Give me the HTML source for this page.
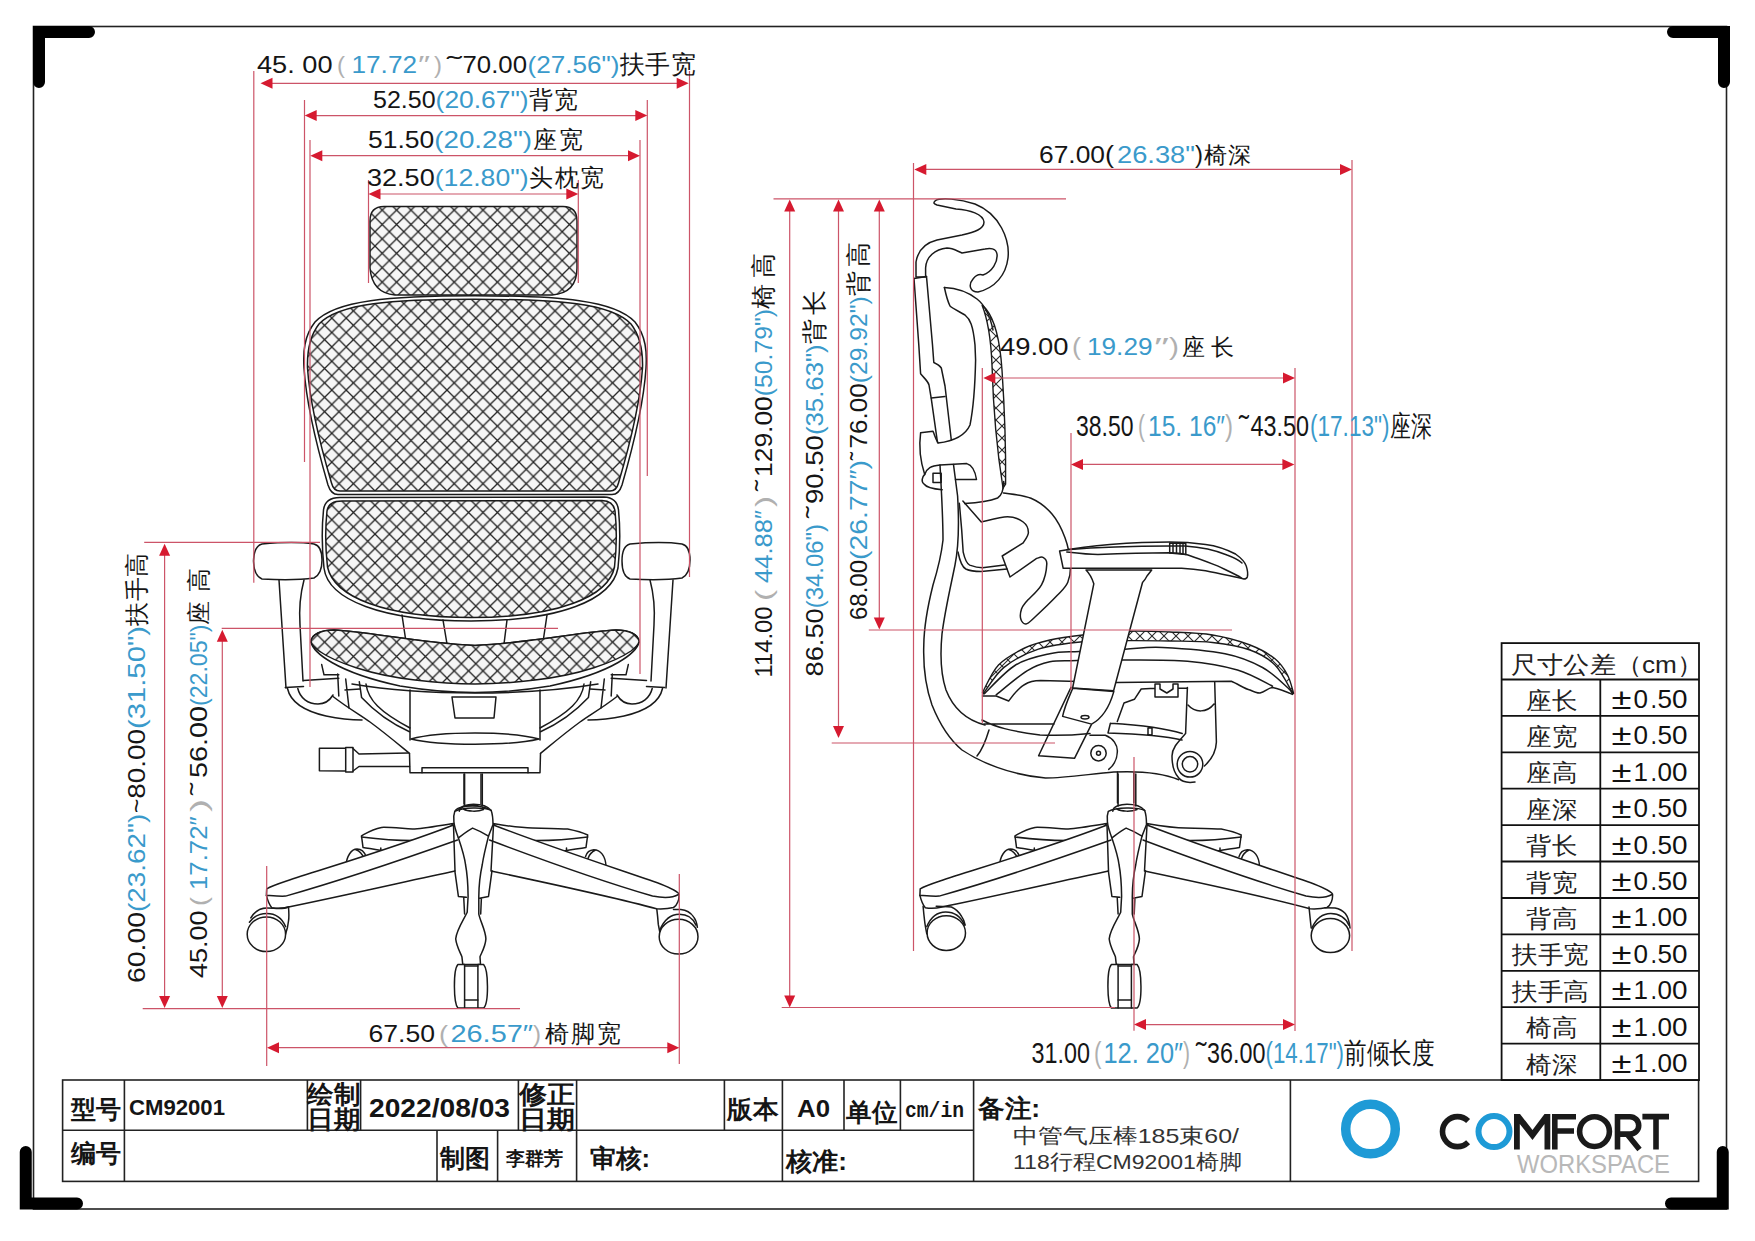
<!DOCTYPE html><html><head><meta charset="utf-8"><style>html,body{margin:0;padding:0;background:#fff;overflow:hidden;width:1755px;height:1241px;}svg{display:block;font-family:"Liberation Sans",sans-serif;}</style></head><body><svg width="1755" height="1241" viewBox="0 0 1755 1241">
<rect width="1755" height="1241" fill="#fff"/>
<rect x="33.5" y="26.5" width="1693" height="1182.5" fill="none" stroke="#222" stroke-width="1.6"/>
<g fill="none" stroke="#000" stroke-width="12" stroke-linecap="round" stroke-linejoin="miter">
<path d="M39,82 V32 H89"/>
<path d="M1673,32 H1724 V82"/>
<path d="M25.75,1152 V1203.5 H77"/>
<path d="M1722.75,1152 V1203.5 H1671"/>
</g>
<g stroke="#222" stroke-width="1.6" fill="none">
<rect x="62.6" y="1080" width="1636" height="101.4"/>
<line x1="62.6" y1="1130.2" x2="973.6" y2="1130.2"/>
<line x1="124.4" y1="1080" x2="124.4" y2="1130.2"/>
<line x1="307.4" y1="1080" x2="307.4" y2="1130.2"/>
<line x1="360.6" y1="1080" x2="360.6" y2="1130.2"/>
<line x1="518.4" y1="1080" x2="518.4" y2="1130.2"/>
<line x1="576.6" y1="1080" x2="576.6" y2="1130.2"/>
<line x1="724.4" y1="1080" x2="724.4" y2="1130.2"/>
<line x1="782.4" y1="1080" x2="782.4" y2="1130.2"/>
<line x1="844" y1="1080" x2="844" y2="1130.2"/>
<line x1="900.4" y1="1080" x2="900.4" y2="1130.2"/>
<line x1="124.4" y1="1130.2" x2="124.4" y2="1181.4"/>
<line x1="437" y1="1130.2" x2="437" y2="1181.4"/>
<line x1="497.6" y1="1130.2" x2="497.6" y2="1181.4"/>
<line x1="576.6" y1="1130.2" x2="576.6" y2="1181.4"/>
<line x1="782.4" y1="1130.2" x2="782.4" y2="1181.4"/>
<line x1="973.6" y1="1080" x2="973.6" y2="1181.4"/>
<line x1="1290.4" y1="1080" x2="1290.4" y2="1181.4"/>
</g>
<text x="71.0" y="1118.0" font-size="25" font-family="Liberation Sans" font-weight="bold" textLength="50.0" lengthAdjust="spacingAndGlyphs" ><tspan fill="#151515">型号</tspan></text>
<text x="71.0" y="1162.0" font-size="25" font-family="Liberation Sans" font-weight="bold" textLength="50.0" lengthAdjust="spacingAndGlyphs" ><tspan fill="#151515">编号</tspan></text>
<text x="129.0" y="1114.5" font-size="22" font-family="Liberation Sans" font-weight="bold" textLength="96.0" lengthAdjust="spacingAndGlyphs" ><tspan fill="#151515">CM92001</tspan></text>
<text x="307.0" y="1103.0" font-size="25" font-family="Liberation Sans" font-weight="bold" textLength="53.0" lengthAdjust="spacingAndGlyphs" ><tspan fill="#151515">绘制</tspan></text>
<text x="307.0" y="1128.0" font-size="25" font-family="Liberation Sans" font-weight="bold" textLength="53.0" lengthAdjust="spacingAndGlyphs" ><tspan fill="#151515">日期</tspan></text>
<text x="369.0" y="1116.5" font-size="26" font-family="Liberation Sans" font-weight="bold" textLength="141.0" lengthAdjust="spacingAndGlyphs" ><tspan fill="#151515">2022/08/03</tspan></text>
<text x="519.0" y="1103.0" font-size="25" font-family="Liberation Sans" font-weight="bold" textLength="56.0" lengthAdjust="spacingAndGlyphs" ><tspan fill="#151515">修正</tspan></text>
<text x="519.0" y="1128.0" font-size="25" font-family="Liberation Sans" font-weight="bold" textLength="56.0" lengthAdjust="spacingAndGlyphs" ><tspan fill="#151515">日期</tspan></text>
<text x="727.0" y="1118.0" font-size="25" font-family="Liberation Sans" font-weight="bold" textLength="51.0" lengthAdjust="spacingAndGlyphs" ><tspan fill="#151515">版本</tspan></text>
<text x="797.0" y="1117.0" font-size="23" font-family="Liberation Sans" font-weight="bold" textLength="33.0" lengthAdjust="spacingAndGlyphs" ><tspan fill="#151515">A0</tspan></text>
<text x="846.0" y="1121.0" font-size="25" font-family="Liberation Sans" font-weight="bold" textLength="51.0" lengthAdjust="spacingAndGlyphs" ><tspan fill="#151515">单位</tspan></text>
<text x="905.0" y="1117.0" font-size="22" font-family="Liberation Mono" font-weight="bold" textLength="59.0" lengthAdjust="spacingAndGlyphs" ><tspan fill="#151515">cm/in</tspan></text>
<text x="978.0" y="1117.0" font-size="25" font-family="Liberation Sans" font-weight="bold" textLength="62.0" lengthAdjust="spacingAndGlyphs" ><tspan fill="#151515">备注:</tspan></text>
<text x="440.0" y="1167.0" font-size="25" font-family="Liberation Sans" font-weight="bold" textLength="50.0" lengthAdjust="spacingAndGlyphs" ><tspan fill="#151515">制图</tspan></text>
<text x="506.0" y="1165.0" font-size="19" font-family="Liberation Sans" font-weight="bold" textLength="57.0" lengthAdjust="spacingAndGlyphs" ><tspan fill="#151515">李群芳</tspan></text>
<text x="590.0" y="1167.0" font-size="25" font-family="Liberation Sans" font-weight="bold" textLength="60.0" lengthAdjust="spacingAndGlyphs" ><tspan fill="#151515">审核:</tspan></text>
<text x="786.0" y="1170.0" font-size="25" font-family="Liberation Sans" font-weight="bold" textLength="61.0" lengthAdjust="spacingAndGlyphs" ><tspan fill="#151515">核准:</tspan></text>
<text x="1013.0" y="1143.0" font-size="21" font-family="Liberation Sans" font-weight="normal" textLength="226.0" lengthAdjust="spacingAndGlyphs" ><tspan fill="#333">中管气压棒185束60/</tspan></text>
<text x="1013.0" y="1169.0" font-size="21" font-family="Liberation Sans" font-weight="normal" textLength="229.0" lengthAdjust="spacingAndGlyphs" ><tspan fill="#333">118行程CM92001椅脚</tspan></text>
<g stroke="#111" stroke-width="1.8" fill="none">
<rect x="1501.6" y="643.1" width="197.4" height="437"/>
<line x1="1600.3" y1="679.5" x2="1600.3" y2="1080"/>
<line x1="1501.6" y1="679.5" x2="1699" y2="679.5"/>
<line x1="1501.6" y1="715.9" x2="1699" y2="715.9"/>
<line x1="1501.6" y1="752.3" x2="1699" y2="752.3"/>
<line x1="1501.6" y1="788.7" x2="1699" y2="788.7"/>
<line x1="1501.6" y1="825.1" x2="1699" y2="825.1"/>
<line x1="1501.6" y1="861.5" x2="1699" y2="861.5"/>
<line x1="1501.6" y1="898.0" x2="1699" y2="898.0"/>
<line x1="1501.6" y1="934.4" x2="1699" y2="934.4"/>
<line x1="1501.6" y1="970.8" x2="1699" y2="970.8"/>
<line x1="1501.6" y1="1007.2" x2="1699" y2="1007.2"/>
<line x1="1501.6" y1="1043.6" x2="1699" y2="1043.6"/>
</g>
<text x="1511.0" y="673.0" font-size="24" font-family="Liberation Sans" font-weight="normal" textLength="192.0" lengthAdjust="spacingAndGlyphs" ><tspan fill="#222">尺寸公差（cm）</tspan></text>
<text x="1526.0" y="708.5" font-size="24" font-family="Liberation Sans" font-weight="normal" textLength="51.0" lengthAdjust="spacingAndGlyphs" ><tspan fill="#222">座长</tspan></text>
<text x="1611.5" y="709.0" font-size="30" font-family="Liberation Sans" fill="#111" textLength="20" lengthAdjust="spacingAndGlyphs">±</text>
<text x="1633.5" y="707.9" font-size="25.4" font-family="Liberation Sans" fill="#111" textLength="14.5" lengthAdjust="spacingAndGlyphs">0</text>
<text x="1650.5" y="707.9" font-size="25.4" font-family="Liberation Sans" fill="#111" textLength="6.5" lengthAdjust="spacingAndGlyphs">.</text>
<text x="1657.5" y="707.9" font-size="25.4" font-family="Liberation Sans" fill="#111" textLength="14.5" lengthAdjust="spacingAndGlyphs">5</text>
<text x="1672.0" y="707.9" font-size="25.4" font-family="Liberation Sans" fill="#111" textLength="15.5" lengthAdjust="spacingAndGlyphs">0</text>
<text x="1526.0" y="744.9" font-size="24" font-family="Liberation Sans" font-weight="normal" textLength="51.0" lengthAdjust="spacingAndGlyphs" ><tspan fill="#222">座宽</tspan></text>
<text x="1611.5" y="745.4" font-size="30" font-family="Liberation Sans" fill="#111" textLength="20" lengthAdjust="spacingAndGlyphs">±</text>
<text x="1633.5" y="744.3" font-size="25.4" font-family="Liberation Sans" fill="#111" textLength="14.5" lengthAdjust="spacingAndGlyphs">0</text>
<text x="1650.5" y="744.3" font-size="25.4" font-family="Liberation Sans" fill="#111" textLength="6.5" lengthAdjust="spacingAndGlyphs">.</text>
<text x="1657.5" y="744.3" font-size="25.4" font-family="Liberation Sans" fill="#111" textLength="14.5" lengthAdjust="spacingAndGlyphs">5</text>
<text x="1672.0" y="744.3" font-size="25.4" font-family="Liberation Sans" fill="#111" textLength="15.5" lengthAdjust="spacingAndGlyphs">0</text>
<text x="1526.0" y="781.3" font-size="24" font-family="Liberation Sans" font-weight="normal" textLength="51.0" lengthAdjust="spacingAndGlyphs" ><tspan fill="#222">座高</tspan></text>
<text x="1611.5" y="781.8" font-size="30" font-family="Liberation Sans" fill="#111" textLength="20" lengthAdjust="spacingAndGlyphs">±</text>
<text x="1633.5" y="780.7" font-size="25.4" font-family="Liberation Sans" fill="#111" textLength="14.5" lengthAdjust="spacingAndGlyphs">1</text>
<text x="1650.5" y="780.7" font-size="25.4" font-family="Liberation Sans" fill="#111" textLength="6.5" lengthAdjust="spacingAndGlyphs">.</text>
<text x="1657.5" y="780.7" font-size="25.4" font-family="Liberation Sans" fill="#111" textLength="14.5" lengthAdjust="spacingAndGlyphs">0</text>
<text x="1672.0" y="780.7" font-size="25.4" font-family="Liberation Sans" fill="#111" textLength="15.5" lengthAdjust="spacingAndGlyphs">0</text>
<text x="1526.0" y="817.7" font-size="24" font-family="Liberation Sans" font-weight="normal" textLength="51.0" lengthAdjust="spacingAndGlyphs" ><tspan fill="#222">座深</tspan></text>
<text x="1611.5" y="818.2" font-size="30" font-family="Liberation Sans" fill="#111" textLength="20" lengthAdjust="spacingAndGlyphs">±</text>
<text x="1633.5" y="817.1" font-size="25.4" font-family="Liberation Sans" fill="#111" textLength="14.5" lengthAdjust="spacingAndGlyphs">0</text>
<text x="1650.5" y="817.1" font-size="25.4" font-family="Liberation Sans" fill="#111" textLength="6.5" lengthAdjust="spacingAndGlyphs">.</text>
<text x="1657.5" y="817.1" font-size="25.4" font-family="Liberation Sans" fill="#111" textLength="14.5" lengthAdjust="spacingAndGlyphs">5</text>
<text x="1672.0" y="817.1" font-size="25.4" font-family="Liberation Sans" fill="#111" textLength="15.5" lengthAdjust="spacingAndGlyphs">0</text>
<text x="1526.0" y="854.1" font-size="24" font-family="Liberation Sans" font-weight="normal" textLength="51.0" lengthAdjust="spacingAndGlyphs" ><tspan fill="#222">背长</tspan></text>
<text x="1611.5" y="854.6" font-size="30" font-family="Liberation Sans" fill="#111" textLength="20" lengthAdjust="spacingAndGlyphs">±</text>
<text x="1633.5" y="853.5" font-size="25.4" font-family="Liberation Sans" fill="#111" textLength="14.5" lengthAdjust="spacingAndGlyphs">0</text>
<text x="1650.5" y="853.5" font-size="25.4" font-family="Liberation Sans" fill="#111" textLength="6.5" lengthAdjust="spacingAndGlyphs">.</text>
<text x="1657.5" y="853.5" font-size="25.4" font-family="Liberation Sans" fill="#111" textLength="14.5" lengthAdjust="spacingAndGlyphs">5</text>
<text x="1672.0" y="853.5" font-size="25.4" font-family="Liberation Sans" fill="#111" textLength="15.5" lengthAdjust="spacingAndGlyphs">0</text>
<text x="1526.0" y="890.5" font-size="24" font-family="Liberation Sans" font-weight="normal" textLength="51.0" lengthAdjust="spacingAndGlyphs" ><tspan fill="#222">背宽</tspan></text>
<text x="1611.5" y="891.0" font-size="30" font-family="Liberation Sans" fill="#111" textLength="20" lengthAdjust="spacingAndGlyphs">±</text>
<text x="1633.5" y="889.9" font-size="25.4" font-family="Liberation Sans" fill="#111" textLength="14.5" lengthAdjust="spacingAndGlyphs">0</text>
<text x="1650.5" y="889.9" font-size="25.4" font-family="Liberation Sans" fill="#111" textLength="6.5" lengthAdjust="spacingAndGlyphs">.</text>
<text x="1657.5" y="889.9" font-size="25.4" font-family="Liberation Sans" fill="#111" textLength="14.5" lengthAdjust="spacingAndGlyphs">5</text>
<text x="1672.0" y="889.9" font-size="25.4" font-family="Liberation Sans" fill="#111" textLength="15.5" lengthAdjust="spacingAndGlyphs">0</text>
<text x="1526.0" y="927.0" font-size="24" font-family="Liberation Sans" font-weight="normal" textLength="51.0" lengthAdjust="spacingAndGlyphs" ><tspan fill="#222">背高</tspan></text>
<text x="1611.5" y="927.5" font-size="30" font-family="Liberation Sans" fill="#111" textLength="20" lengthAdjust="spacingAndGlyphs">±</text>
<text x="1633.5" y="926.4" font-size="25.4" font-family="Liberation Sans" fill="#111" textLength="14.5" lengthAdjust="spacingAndGlyphs">1</text>
<text x="1650.5" y="926.4" font-size="25.4" font-family="Liberation Sans" fill="#111" textLength="6.5" lengthAdjust="spacingAndGlyphs">.</text>
<text x="1657.5" y="926.4" font-size="25.4" font-family="Liberation Sans" fill="#111" textLength="14.5" lengthAdjust="spacingAndGlyphs">0</text>
<text x="1672.0" y="926.4" font-size="25.4" font-family="Liberation Sans" fill="#111" textLength="15.5" lengthAdjust="spacingAndGlyphs">0</text>
<text x="1512.0" y="963.4" font-size="24" font-family="Liberation Sans" font-weight="normal" textLength="77.0" lengthAdjust="spacingAndGlyphs" ><tspan fill="#222">扶手宽</tspan></text>
<text x="1611.5" y="963.9" font-size="30" font-family="Liberation Sans" fill="#111" textLength="20" lengthAdjust="spacingAndGlyphs">±</text>
<text x="1633.5" y="962.8" font-size="25.4" font-family="Liberation Sans" fill="#111" textLength="14.5" lengthAdjust="spacingAndGlyphs">0</text>
<text x="1650.5" y="962.8" font-size="25.4" font-family="Liberation Sans" fill="#111" textLength="6.5" lengthAdjust="spacingAndGlyphs">.</text>
<text x="1657.5" y="962.8" font-size="25.4" font-family="Liberation Sans" fill="#111" textLength="14.5" lengthAdjust="spacingAndGlyphs">5</text>
<text x="1672.0" y="962.8" font-size="25.4" font-family="Liberation Sans" fill="#111" textLength="15.5" lengthAdjust="spacingAndGlyphs">0</text>
<text x="1512.0" y="999.8" font-size="24" font-family="Liberation Sans" font-weight="normal" textLength="77.0" lengthAdjust="spacingAndGlyphs" ><tspan fill="#222">扶手高</tspan></text>
<text x="1611.5" y="1000.3" font-size="30" font-family="Liberation Sans" fill="#111" textLength="20" lengthAdjust="spacingAndGlyphs">±</text>
<text x="1633.5" y="999.2" font-size="25.4" font-family="Liberation Sans" fill="#111" textLength="14.5" lengthAdjust="spacingAndGlyphs">1</text>
<text x="1650.5" y="999.2" font-size="25.4" font-family="Liberation Sans" fill="#111" textLength="6.5" lengthAdjust="spacingAndGlyphs">.</text>
<text x="1657.5" y="999.2" font-size="25.4" font-family="Liberation Sans" fill="#111" textLength="14.5" lengthAdjust="spacingAndGlyphs">0</text>
<text x="1672.0" y="999.2" font-size="25.4" font-family="Liberation Sans" fill="#111" textLength="15.5" lengthAdjust="spacingAndGlyphs">0</text>
<text x="1526.0" y="1036.2" font-size="24" font-family="Liberation Sans" font-weight="normal" textLength="51.0" lengthAdjust="spacingAndGlyphs" ><tspan fill="#222">椅高</tspan></text>
<text x="1611.5" y="1036.7" font-size="30" font-family="Liberation Sans" fill="#111" textLength="20" lengthAdjust="spacingAndGlyphs">±</text>
<text x="1633.5" y="1035.6" font-size="25.4" font-family="Liberation Sans" fill="#111" textLength="14.5" lengthAdjust="spacingAndGlyphs">1</text>
<text x="1650.5" y="1035.6" font-size="25.4" font-family="Liberation Sans" fill="#111" textLength="6.5" lengthAdjust="spacingAndGlyphs">.</text>
<text x="1657.5" y="1035.6" font-size="25.4" font-family="Liberation Sans" fill="#111" textLength="14.5" lengthAdjust="spacingAndGlyphs">0</text>
<text x="1672.0" y="1035.6" font-size="25.4" font-family="Liberation Sans" fill="#111" textLength="15.5" lengthAdjust="spacingAndGlyphs">0</text>
<text x="1526.0" y="1072.6" font-size="24" font-family="Liberation Sans" font-weight="normal" textLength="51.0" lengthAdjust="spacingAndGlyphs" ><tspan fill="#222">椅深</tspan></text>
<text x="1611.5" y="1073.1" font-size="30" font-family="Liberation Sans" fill="#111" textLength="20" lengthAdjust="spacingAndGlyphs">±</text>
<text x="1633.5" y="1072.0" font-size="25.4" font-family="Liberation Sans" fill="#111" textLength="14.5" lengthAdjust="spacingAndGlyphs">1</text>
<text x="1650.5" y="1072.0" font-size="25.4" font-family="Liberation Sans" fill="#111" textLength="6.5" lengthAdjust="spacingAndGlyphs">.</text>
<text x="1657.5" y="1072.0" font-size="25.4" font-family="Liberation Sans" fill="#111" textLength="14.5" lengthAdjust="spacingAndGlyphs">0</text>
<text x="1672.0" y="1072.0" font-size="25.4" font-family="Liberation Sans" fill="#111" textLength="15.5" lengthAdjust="spacingAndGlyphs">0</text>
<circle cx="1370.5" cy="1129" r="24.8" fill="none" stroke="#1e9ad6" stroke-width="9.5"/>
<path d="M1468.1,1121 A15,15 0 1 0 1468.1,1142.2" fill="none" stroke="#1a1a1a" stroke-width="5.6"/>
<circle cx="1494" cy="1131.6" r="15.5" fill="none" stroke="#1e9ad6" stroke-width="6"/>
<polygon fill="#1a1a1a" points="1514,1149.4 1514,1113.9 1520,1113.9 1532.5,1130 1544.5,1113.9 1550.3,1113.9 1550.3,1149.4 1544.5,1149.4 1544.5,1124 1532.5,1140 1519.8,1124 1519.8,1149.4"/>
<path d="M1554.8,1149.4 V1116.7 H1576 M1554.8,1131 H1574" fill="none" stroke="#1a1a1a" stroke-width="5.6"/>
<circle cx="1594.5" cy="1131.6" r="14.9" fill="none" stroke="#1a1a1a" stroke-width="5.6"/>
<path d="M1617.5,1149.4 V1116.7 H1630 A8.7,8.7 0 0 1 1630,1134.1 H1620 M1627,1134 L1639.5,1149.4" fill="none" stroke="#1a1a1a" stroke-width="5.6"/>
<path d="M1642.4,1116.6 H1669 M1656,1116.6 V1149.4" fill="none" stroke="#1a1a1a" stroke-width="5.6"/>
<text x="1517.0" y="1172.8" font-size="26" font-family="Liberation Sans" font-weight="normal" textLength="153.0" lengthAdjust="spacingAndGlyphs" ><tspan fill="#b8b8b8">WORKSPACE</tspan></text>
<defs>
<pattern id="mesh" patternUnits="userSpaceOnUse" width="14.4" height="14.4" x="0.6" y="1.3">
<rect width="14.4" height="14.4" fill="#f6f6f6"/>
<path d="M-1,-1 L15.4,15.4 M15.4,-1 L-1,15.4" stroke="#222" stroke-width="1.3" fill="none"/>
</pattern>
<pattern id="mesh2" patternUnits="userSpaceOnUse" width="12" height="12">
<path d="M-1,-1 L13,13 M13,-1 L-1,13" stroke="#2a2a2a" stroke-width="1.1" fill="none"/>
</pattern>
</defs>
<path d="M384,206.5 L563,206.5 Q577,206.5 577,221 L577,268 Q577,293 552,295 L395,295 Q372,293 370,268 L370,221 Q370,206.5 384,206.5 Z" fill="url(#mesh)" stroke="#1a1a1a" stroke-width="1.5"  stroke-linejoin="round" stroke-linecap="round"/>
<path d="M475,295.8 C560,295.8 615,300 635,322 C646,336 647,352 646,368 C644,400 635,440 622,485 Q619,494.5 612,494.5 L338,494.5 Q331,494.5 328,485 C315,440 306,400 304,368 C303,352 304,336 315,322 C335,300 390,295.8 475,295.8 Z" fill="#fff" stroke="#1a1a1a" stroke-width="1.5"  stroke-linejoin="round" stroke-linecap="round"/>
<path d="M475,299.3 C558,299.3 611,303 631,324 C641,337 643,352 642.5,368 C640.5,399 631.5,439 618.5,483 Q616.5,491 610,491 L340,491 Q333.5,491 331.5,483 C318.5,439 309.5,399 307.5,368 C307,352 309,337 319,324 C339,303 392,299.3 475,299.3 Z" fill="url(#mesh)" stroke="#1a1a1a" stroke-width="1.5"  stroke-linejoin="round" stroke-linecap="round"/>
<path d="M340,497.5 L604,497 Q617,497.5 618.5,510 C620,525 620.5,545 618,568 C612,600 560,621 471,621 C382,621 328,600 324,568 C321.5,545 322,525 323.5,510 Q325,497.5 340,497.5 Z" fill="#fff" stroke="#1a1a1a" stroke-width="1.5"  stroke-linejoin="round" stroke-linecap="round"/>
<path d="M342,501 L602,500.5 Q613.5,501 615,511 C616.5,525 617,545 614.5,567 C608.5,597 557,617.5 471,617.5 C385,617.5 334,597 327.5,567 C325,545 325.5,525 327,511 Q328.5,501 342,501 Z" fill="url(#mesh)" stroke="#1a1a1a" stroke-width="1.5"  stroke-linejoin="round" stroke-linecap="round"/>
<path d="M402,615 L406,642 M443,620 L447,644 M507,620 L504,644 M547,615 L543,642" stroke="#1a1a1a" stroke-width="1.5" fill="none" stroke-linejoin="round" stroke-linecap="round"/>
<path d="M262,544 C285,542 300,542 314,544 Q322,546 322,560 Q322,574 314,578 C300,580 280,580 262,579 Q254,576 253.5,561 Q254,546 262,544 Z" stroke="#1a1a1a" stroke-width="1.5" fill="none" stroke-linejoin="round" stroke-linecap="round"/>
<path d="M630,544 C652,542 668,542 682,544 Q690,546 690,560 Q690,574 682,578 C668,580 648,580 630,579 Q622,576 622,561 Q622,546 630,544 Z" stroke="#1a1a1a" stroke-width="1.5" fill="none" stroke-linejoin="round" stroke-linecap="round"/>
<path d="M279,580 L286,688 M304,580 C300,595 299,610 300,625 L303,681" stroke="#1a1a1a" stroke-width="1.5" fill="none" stroke-linejoin="round" stroke-linecap="round"/>
<path d="M650,580 C654,595 655,610 654,625 L651,681 M673,580 L666,688" stroke="#1a1a1a" stroke-width="1.5" fill="none" stroke-linejoin="round" stroke-linecap="round"/>
<path d="M285.3,687.5 L303.5,686.5" stroke="#1a1a1a" stroke-width="1.5" fill="none" stroke-linejoin="round" stroke-linecap="round"/>
<path d="M 664.7 687.5 L 646.5 686.5" stroke="#1a1a1a" stroke-width="1.5" fill="none" stroke-linejoin="round" stroke-linecap="round"/>
<path d="M287.5,688.5 C290,700 300,710 326,716 C340,719 352,720 362,720" stroke="#1a1a1a" stroke-width="1.5" fill="none" stroke-linejoin="round" stroke-linecap="round"/>
<path d="M 662.5 688.5 C 660.0 700.0 650.0 710.0 624.0 716.0 C 610.0 719.0 598.0 720.0 588.0 720.0" stroke="#1a1a1a" stroke-width="1.5" fill="none" stroke-linejoin="round" stroke-linecap="round"/>
<path d="M297.8,688.5 C300,698 308,704 318,704 C325,704 330,700 333,695" stroke="#1a1a1a" stroke-width="1.5" fill="none" stroke-linejoin="round" stroke-linecap="round"/>
<path d="M 652.2 688.5 C 650.0 698.0 642.0 704.0 632.0 704.0 C 625.0 704.0 620.0 700.0 617.0 695.0" stroke="#1a1a1a" stroke-width="1.5" fill="none" stroke-linejoin="round" stroke-linecap="round"/>
<path d="M303.5,680.5 L338.8,678.2 M321.7,664.6 L324,674.8 L338.8,674.8" stroke="#1a1a1a" stroke-width="1.5" fill="none" stroke-linejoin="round" stroke-linecap="round"/>
<path d="M 646.5 680.5 L 611.2 678.2 M 628.3 664.6 L 626.0 674.8 L 611.2 674.8" stroke="#1a1a1a" stroke-width="1.5" fill="none" stroke-linejoin="round" stroke-linecap="round"/>
<path d="M337.7,674 L338.8,696 M345.7,679 L349,708 M345,690 L360,689" stroke="#1a1a1a" stroke-width="1.5" fill="none" stroke-linejoin="round" stroke-linecap="round"/>
<path d="M 612.3 674.0 L 611.2 696.0 M 604.3 679.0 L 601.0 708.0 M 605.0 690.0 L 590.0 689.0" stroke="#1a1a1a" stroke-width="1.5" fill="none" stroke-linejoin="round" stroke-linecap="round"/>
<path d="M333,696.5 C345,706 360,715 370,722 C385,733 398,744 409.5,753.4" stroke="#1a1a1a" stroke-width="1.5" fill="none" stroke-linejoin="round" stroke-linecap="round"/>
<path d="M 617.0 696.5 C 605.0 706.0 590.0 715.0 580.0 722.0 C 565.0 733.0 552.0 744.0 540.5 753.4" stroke="#1a1a1a" stroke-width="1.5" fill="none" stroke-linejoin="round" stroke-linecap="round"/>
<path d="M359.3,681.7 L361.6,697.6 C375,712 392,724 409.5,731.8" stroke="#1a1a1a" stroke-width="1.5" fill="none" stroke-linejoin="round" stroke-linecap="round"/>
<path d="M 590.7 681.7 L 588.4 697.6 C 575.0 712.0 558.0 724.0 540.5 731.8" stroke="#1a1a1a" stroke-width="1.5" fill="none" stroke-linejoin="round" stroke-linecap="round"/>
<path d="M366,684 C368,700 380,712 410,728" stroke="#1a1a1a" stroke-width="1.5" fill="none" stroke-linejoin="round" stroke-linecap="round"/>
<path d="M 584.0 684.0 C 582.0 700.0 570.0 712.0 540.0 728.0" stroke="#1a1a1a" stroke-width="1.5" fill="none" stroke-linejoin="round" stroke-linecap="round"/>
<path d="M311,642 C311,634 322,630 334,630 C370,632 420,643 475,645.5 C530,643 580,632 616,630 C628,630 639,634 639,642 C637,652 615,672 550,686 C520,691 500,692.5 475,692.5 C450,692.5 430,691 400,686 C335,672 313,652 311,642 Z" fill="#fff" stroke="#1a1a1a" stroke-width="1.5"  stroke-linejoin="round" stroke-linecap="round"/>
<path d="M311,642 C311,634 322,630 334,630 C370,632 420,643 475,645.5 C530,643 580,632 616,630 C628,630 639,634 639,642 C638,645 635,648 631,651 C615,662 580,675 535,680 C510,683 490,684 475,684 C460,684 440,683 415,680 C370,675 335,662 319,651 C315,648 312,645 311,642 Z" fill="url(#mesh)" stroke="#1a1a1a" stroke-width="1.5"  stroke-linejoin="round" stroke-linecap="round"/>
<path d="M352,684 C400,692 440,693 475,693 C510,693 550,692 598,684" stroke="#1a1a1a" stroke-width="1.5" fill="none" stroke-linejoin="round" stroke-linecap="round"/>
<path d="M410,690 L410,740 M540,690 L540,740" stroke="#1a1a1a" stroke-width="1.5" fill="none" stroke-linejoin="round" stroke-linecap="round"/>
<path d="M452,697 L496,697 L494,718 L455,718 Z" stroke="#1a1a1a" stroke-width="1.5" fill="none" stroke-linejoin="round" stroke-linecap="round"/>
<path d="M411,739 C440,731 510,731 539,739 M411,739 C440,746 510,746 539,739" stroke="#1a1a1a" stroke-width="1.5" fill="none" stroke-linejoin="round" stroke-linecap="round"/>
<path d="M409.5,753.4 L410,772.8 L540,772.8 L540.5,753.4" stroke="#1a1a1a" stroke-width="1.5" fill="none" stroke-linejoin="round" stroke-linecap="round"/>
<path d="M422,772.8 L422,767.7 L528,767.7 L528,772.8" stroke="#1a1a1a" stroke-width="1.5" fill="none" stroke-linejoin="round" stroke-linecap="round"/>
<path d="M319.4,748.3 L345.7,748 L345.7,771.1 L319.4,770.8 Z M345.7,747.5 L353,747.5 L353,772 L345.7,772" stroke="#1a1a1a" stroke-width="1.5" fill="none" stroke-linejoin="round" stroke-linecap="round"/>
<path d="M353,748.5 L359,754 L408.3,752.9 M353,771 L359,766.5 L409.5,766.6" stroke="#1a1a1a" stroke-width="1.5" fill="none" stroke-linejoin="round" stroke-linecap="round"/>
<path d="M464,774 L464,804 M481,774 L481,804" stroke="#1a1a1a" stroke-width="1.5" fill="none" stroke-linejoin="round" stroke-linecap="round"/>
<path d="M459,812 C459,803 486,803 486,812 M455,812 C455,804 490,804 490,812" stroke="#1a1a1a" stroke-width="1.5" fill="none" stroke-linejoin="round" stroke-linecap="round"/>
<path d="M 346.0 866.0 C 346.5 856.0 351.5 849.0 357.0 849.0 C 361.5 849.0 364.5 852.0 366.0 856.6 M 355.5 849.5 C 359.5 851.0 362.5 854.0 364.0 858.5" stroke="#1a1a1a" stroke-width="1.5" fill="none" stroke-linejoin="round" stroke-linecap="round"/>
<path d="M 606.0 866.0 C 605.5 856.0 600.5 849.7 593.8 849.7 C 589.5 850.0 586.5 853.0 585.5 856.6 M 595.5 850.0 C 591.5 852.0 589.0 855.0 588.0 858.5" stroke="#1a1a1a" stroke-width="1.5" fill="none" stroke-linejoin="round" stroke-linecap="round"/>
<path d="M 453.5 823.5 C 437.5 826.0 422.5 829.0 412.5 829.0 C 397.5 828.0 387.5 827.0 381.5 827.4 C 372.5 829.0 366.5 833.0 361.5 835.8 L 363.0 847.4 C 372.5 849.0 382.5 851.0 392.5 852.0 L 432.5 846.0 Z" stroke="#1a1a1a" stroke-width="1.5" fill="#fff" stroke-linejoin="round" stroke-linecap="round"/>
<path d="M 361.5 837.0 C 377.5 839.0 402.5 841.0 420.0 840.5 C 427.5 839.0 434.5 837.0 442.5 835.0 M 380.8 848.0 L 380.8 852.0" stroke="#1a1a1a" stroke-width="1.5" fill="none" stroke-linejoin="round" stroke-linecap="round"/>
<path d="M 493.0 823.5 C 507.5 826.0 522.5 828.0 532.3 828.0 C 547.5 828.5 560.5 829.0 567.7 829.0 C 577.5 831.0 583.5 833.0 587.7 835.0 L 586.0 847.4 C 575.5 849.0 565.5 851.0 555.5 852.0 L 512.5 846.0 Z" stroke="#1a1a1a" stroke-width="1.5" fill="#fff" stroke-linejoin="round" stroke-linecap="round"/>
<path d="M 587.7 837.0 C 572.5 839.0 547.5 841.0 529.0 840.5 C 520.5 839.0 512.5 837.0 504.5 835.0 M 566.5 848.0 L 566.5 852.0" stroke="#1a1a1a" stroke-width="1.5" fill="none" stroke-linejoin="round" stroke-linecap="round"/>
<path d="M 453.5 825.0 C 402.5 845.0 332.5 866.0 286.5 881.0 C 277.5 884.0 271.5 886.0 266.7 888.9 L 266.4 895.4 C 267.5 900.0 269.5 905.0 271.8 907.7 C 276.5 908.5 282.5 908.4 288.5 907.0 C 342.5 896.0 412.5 880.0 455.0 871.0 Z" stroke="#1a1a1a" stroke-width="1.5" fill="#fff" stroke-linejoin="round" stroke-linecap="round"/>
<path d="M 266.4 895.4 C 272.5 895.8 280.5 896.5 285.6 896.1 C 342.5 880.0 412.5 856.0 457.5 840.0" stroke="#1a1a1a" stroke-width="1.5" fill="none" stroke-linejoin="round" stroke-linecap="round"/>
<path d="M 493.5 825.0 C 544.5 845.0 614.5 868.0 660.5 884.0 C 670.5 888.0 677.5 891.0 679.0 894.0 C 679.5 899.0 677.5 905.0 673.5 907.5 C 667.5 909.0 660.5 909.0 656.5 908.8 C 613.5 897.0 533.5 880.0 491.0 871.0 Z" stroke="#1a1a1a" stroke-width="1.5" fill="#fff" stroke-linejoin="round" stroke-linecap="round"/>
<path d="M 489.5 840.0 C 534.5 857.0 604.5 882.0 652.5 896.0 C 662.5 898.0 672.5 898.0 678.5 894.5" stroke="#1a1a1a" stroke-width="1.5" fill="none" stroke-linejoin="round" stroke-linecap="round"/>
<path d="M 454.8 811.3 C 453.5 815.0 453.5 819.0 453.9 821.9 C 454.5 828.0 456.5 833.0 458.4 837.9 C 462.5 850.0 464.5 856.0 465.5 864.5 C 467.5 875.0 468.0 885.0 468.1 896.4 L 467.2 912.3 C 463.5 920.0 456.5 930.0 455.7 938.9 C 456.5 946.0 459.5 951.0 461.9 956.7 L 462.8 964.6 L 480.5 964.6 L 480.0 956.7 C 482.5 951.0 485.5 946.0 485.9 938.9 C 485.5 930.0 480.5 922.0 478.8 914.1 L 478.8 896.4 C 478.9 885.0 480.0 875.0 482.3 864.5 C 483.5 856.0 485.5 848.0 488.5 836.1 C 491.0 830.0 492.5 826.0 493.0 824.6 C 493.0 818.0 492.5 814.0 491.2 810.4 C 484.5 807.0 462.5 807.0 454.8 811.3 Z" stroke="#1a1a1a" stroke-width="1.5" fill="#fff" stroke-linejoin="round" stroke-linecap="round"/>
<path d="M 458.4 837.9 C 463.5 834.0 468.5 830.0 472.6 828.1 C 477.5 830.0 483.5 833.0 488.5 836.1" stroke="#1a1a1a" stroke-width="1.5" fill="none" stroke-linejoin="round" stroke-linecap="round"/>
<path d="M 454.8 870.7 L 458.4 896.4 L 466.3 897.3 M 492.0 870.7 L 488.5 896.4 L 479.6 898.2 M 463.7 897.0 L 464.6 914.0 M 481.4 898.0 L 480.7 914.0" stroke="#1a1a1a" stroke-width="1.5" fill="none" stroke-linejoin="round" stroke-linecap="round"/>
<path d="M 464.6 774.0 L 464.6 806.0 M 482.3 774.0 L 482.3 806.0" stroke="#1a1a1a" stroke-width="1.5" fill="none" stroke-linejoin="round" stroke-linecap="round"/>
<path d="M 459.3 811.3 C 459.5 806.0 467.5 804.2 473.5 804.2 C 480.5 804.2 487.5 806.0 491.2 810.4 M 463.5 809.0 C 467.5 811.5 477.5 812.0 483.5 809.5" stroke="#1a1a1a" stroke-width="1.5" fill="none" stroke-linejoin="round" stroke-linecap="round"/>
<path d="M 457.9 964.6 L 464.6 964.6 L 464.6 1008.0 L 457.9 1008.0 C 453.5 1003.0 453.0 970.0 457.9 964.6 Z" stroke="#1a1a1a" stroke-width="1.5" fill="#fff" stroke-linejoin="round" stroke-linecap="round"/>
<path d="M 477.9 964.6 L 483.6 964.6 C 488.5 970.0 489.0 1003.0 483.6 1008.0 L 477.9 1008.0 Z" stroke="#1a1a1a" stroke-width="1.5" fill="#fff" stroke-linejoin="round" stroke-linecap="round"/>
<path d="M 464.6 966.0 L 477.9 966.0 M 464.6 1000.0 L 477.9 1000.0 M 464.6 1008.0 L 477.9 1008.0" stroke="#1a1a1a" stroke-width="1.5" fill="none" stroke-linejoin="round" stroke-linecap="round"/>
<ellipse cx="266.4" cy="934.3" rx="19.2" ry="17.3" stroke="#1a1a1a" stroke-width="1.5" fill="#fff" stroke-linejoin="round" stroke-linecap="round"/>
<path d="M249.4,922.2 C254,916 260,913.5 266.75,913.5 C275,913.5 282,918 285.6,926.6" stroke="#1a1a1a" stroke-width="1.5" fill="none" stroke-linejoin="round" stroke-linecap="round"/>
<path d="M250.8,917.9 C255,911 261,908 266.75,908 C275,908 282,910 288.5,907" stroke="#1a1a1a" stroke-width="1.5" fill="none" stroke-linejoin="round" stroke-linecap="round"/>
<path d="M288.5,907 C289,913 289,918 288.5,921 C288,926 287,930 285.6,934" stroke="#1a1a1a" stroke-width="1.5" fill="none" stroke-linejoin="round" stroke-linecap="round"/>
<ellipse cx="678.6" cy="936.7" rx="19.4" ry="17.4" stroke="#1a1a1a" stroke-width="1.5" fill="#fff" stroke-linejoin="round" stroke-linecap="round"/>
<path d="M659.7,930.2 C664,920 671,914.2 679.3,914.2 C687,914.2 693,918 696,925.1" stroke="#1a1a1a" stroke-width="1.5" fill="none" stroke-linejoin="round" stroke-linecap="round"/>
<path d="M673.5,909.5 L680.8,909.5 C687,910 691,913 693.8,917.1 C696,920 697,924 697.4,927.3" stroke="#1a1a1a" stroke-width="1.5" fill="none" stroke-linejoin="round" stroke-linecap="round"/>
<path d="M656.8,909.2 C657.5,915 658,920 658.3,924.4 C658.8,927 659.2,929 659.7,931.6" stroke="#1a1a1a" stroke-width="1.5" fill="none" stroke-linejoin="round" stroke-linecap="round"/>
<path d="M935,201 C940,197 960,199 975,204 C1000,214 1010,240 1008,258 C1006,275 995,288 978,292 C970,292 968,285 973,279 C976,275 980,274 983,275 C992,272 998,262 997,254 C996,248 990,248 985,249 L962,253 C957,251 953,248 947,248 C935,249 926,257 925.6,268 L925.6,277 L916,277 L916,262 C918,250 925,243 937,240 L962,235 C975,232 984,229 984,222 C983,214 970,210 956,209 L937,205 C934,204 933,203 935,201 Z" stroke="#1a1a1a" stroke-width="1.5" fill="none" stroke-linejoin="round" stroke-linecap="round"/>
<path d="M914,278.5 L926.5,276.5" stroke="#1a1a1a" stroke-width="1.5" fill="none" stroke-linejoin="round" stroke-linecap="round"/>
<path d="M914,278.5 L918.8,345 L920.6,373.8 C924,378 928,381 929,385 L931.3,398.8 L937.5,442.5" stroke="#1a1a1a" stroke-width="1.5" fill="none" stroke-linejoin="round" stroke-linecap="round"/>
<path d="M926.5,276.5 L932.5,345 L933.8,362.5 C937,364 940,366 941.3,368 L945,386 L951.3,440" stroke="#1a1a1a" stroke-width="1.5" fill="none" stroke-linejoin="round" stroke-linecap="round"/>
<path d="M931.3,398 L945,396.5" stroke="#1a1a1a" stroke-width="1.5" fill="none" stroke-linejoin="round" stroke-linecap="round"/>
<path d="M944.4,287.5 C946,295 948,302 950,306 C952,308 958,311 965,315 C970,319 973,325 975,345 L975.6,360 C975,390 973,410 970,425 C966,434 955,441 938,443" stroke="#1a1a1a" stroke-width="1.5" fill="none" stroke-linejoin="round" stroke-linecap="round"/>
<path d="M944.4,287.5 C955,288 968,292 977,299 C986,306 990,316 993,330" stroke="#1a1a1a" stroke-width="1.5" fill="none" stroke-linejoin="round" stroke-linecap="round"/>
<path d="M982,305 C988,320 991,340 992,365 C993,400 996,445 1003,488 L1005.6,484 C1006,440 1004,400 1002,370 C1000,340 995,320 986,309 Z" fill="url(#mesh2)" stroke="#1a1a1a" stroke-width="1.4"/>
<path d="M920.6,432.8 L933,431.3 C935,436 936,440 938,442.6 M920.6,432.8 C919,445 920,460 924.7,474.4 C922,477 921,482 924,484 C926,487 934,489 942.2,489.7" stroke="#1a1a1a" stroke-width="1.5" fill="none" stroke-linejoin="round" stroke-linecap="round"/>
<path d="M924.7,474.4 C927,468 931,466 940,465 L966.8,463.6 C972,465 975,470 976.5,479.5 L955.5,479.5" stroke="#1a1a1a" stroke-width="1.5" fill="none" stroke-linejoin="round" stroke-linecap="round"/>
<path d="M933,473.3 L941.2,473.3 L941.2,482.6 L933,482.6 Z" stroke="#1a1a1a" stroke-width="1.5" fill="none" stroke-linejoin="round" stroke-linecap="round"/>
<path d="M940,465 C942,500 943,520 943,540 C941,558 937,572 933,585 C928,605 924,625 923.8,645 C923,668 926,688 932,705 C940,725 950,740 962,750 C980,762 1010,775 1045.5,778 C1065,778 1090,774 1113.8,772 C1135,771 1160,772 1178.8,779.7" stroke="#1a1a1a" stroke-width="1.5" fill="none" stroke-linejoin="round" stroke-linecap="round"/>
<path d="M953.5,464.6 L957.6,496 C959,520 959,545 955,565 C951,585 945,610 942,634 C940,655 941,675 946,690 C953,708 966,720 985,725" stroke="#1a1a1a" stroke-width="1.5" fill="none" stroke-linejoin="round" stroke-linecap="round"/>
<path d="M1003.7,481.5 C1004,490 1001,496 997.6,498 C990,501 975,503 964.7,503.6" stroke="#1a1a1a" stroke-width="1.5" fill="none" stroke-linejoin="round" stroke-linecap="round"/>
<path d="M1003.5,493.0 C1008.1,493.9 1022.9,494.8 1031.0,498.3 C1039.1,501.8 1046.3,507.4 1052.0,514.0 C1057.7,520.6 1061.9,529.4 1065.0,537.7 C1068.1,546.0 1069.9,556.6 1070.4,564.0 C1070.9,571.4 1070.0,577.0 1067.8,582.2 C1065.6,587.4 1062.8,589.5 1057.3,595.3 C1051.8,601.1 1040.2,612.2 1035.0,617.0 C1029.8,621.8 1028.4,623.7 1026.0,624.0 C1023.6,624.3 1021.5,621.5 1020.8,619.0 C1020.0,616.5 1020.6,611.8 1021.5,609.0 C1022.4,606.2 1022.7,606.0 1026.0,602.0 C1029.3,598.0 1038.0,591.1 1041.5,584.8 C1045.0,578.4 1046.6,568.5 1046.8,563.9 C1047.0,559.3 1044.7,558.2 1042.9,557.3 C1041.2,556.4 1037.4,558.4 1036.3,558.6 L1010,577 L1002.2,556 L1023.2,542.9 C1024.1,541.1 1028.4,535.9 1028.4,532.4 C1028.4,528.9 1026.7,524.6 1023.2,522.0 C1019.7,519.4 1014.5,516.7 1007.5,516.7 C1000.5,516.7 985.7,521.1 981.3,522.0 L962.9,501" stroke="#1a1a1a" stroke-width="1.5" fill="none" stroke-linejoin="round" stroke-linecap="round"/>
<path d="M959.3,503.2 C961,520 962.5,540 963.2,552.2 C965,560 967,564 969.7,565.1 C975,567 978,567.7 982.5,567.7 L1004.5,565.1" stroke="#1a1a1a" stroke-width="1.5" fill="none" stroke-linejoin="round" stroke-linecap="round"/>
<path d="M958,552 C960,562 962,567 965.8,569 C970,571 975,571.5 981.3,571.5 L1007,569" stroke="#1a1a1a" stroke-width="1.5" fill="none" stroke-linejoin="round" stroke-linecap="round"/>
<path d="M982.5,692.5 C985.2,687.9 991.5,672.4 998.5,665.0 C1005.5,657.6 1016.2,652.2 1024.7,648.0 C1033.2,643.8 1040.1,642.2 1049.8,640.0 C1059.5,637.8 1069.6,636.5 1082.8,635.0 C1096.0,633.5 1114.2,631.8 1128.8,631.2 C1143.3,630.8 1156.0,631.4 1170.0,632.0 C1184.0,632.6 1199.2,632.8 1212.5,635.0 C1225.8,637.2 1239.6,641.0 1250.0,645.0 C1260.4,649.0 1268.8,653.8 1275.0,658.8 C1281.2,663.8 1284.4,669.2 1287.5,675.0 C1290.6,680.8 1292.7,690.6 1293.8,693.8 L1292.0,692.0 C1289.2,687.5 1282.0,672.0 1275.0,665.0 C1268.0,658.0 1260.4,653.8 1250.0,650.0 C1239.6,646.2 1225.8,644.0 1212.5,642.5 C1199.2,641.0 1184.1,641.3 1170.0,641.0 C1155.9,640.7 1142.5,640.5 1128.0,640.6 C1113.5,640.7 1097.7,640.4 1082.8,641.8 C1067.9,643.2 1051.5,644.9 1038.4,649.2 C1025.3,653.5 1013.1,660.0 1004.0,667.4 C994.9,674.8 986.9,689.1 983.5,693.5 Z" fill="url(#mesh2)" stroke="#1a1a1a" stroke-width="1.4"/>
<path d="M984.0,694.0 C989.3,689.2 1004.6,671.7 1015.6,665.0 C1026.6,658.3 1039.2,656.0 1049.8,653.7 C1060.4,651.5 1066.9,652.2 1079.4,651.5 C1091.9,650.8 1111.2,649.9 1125.0,649.2 C1138.8,648.5 1145.8,646.7 1162.5,647.5 C1179.2,648.3 1208.3,650.4 1225.0,653.8 C1241.7,657.1 1252.1,661.9 1262.5,667.5 C1272.9,673.1 1282.5,683.1 1287.5,687.5 C1292.5,691.9 1291.7,692.9 1292.5,694.0" stroke="#1a1a1a" stroke-width="1.5" fill="none" stroke-linejoin="round" stroke-linecap="round"/>
<path d="M996.2,694.8 C1001.3,690.8 1018.1,676.3 1027.0,670.8 C1035.9,665.3 1041.5,663.4 1049.8,661.7 C1058.1,660.0 1064.7,660.9 1077.0,660.6 C1089.3,660.3 1105.3,659.9 1123.8,660.0 C1142.2,660.1 1168.5,659.6 1187.5,661.2 C1206.5,662.9 1223.3,665.8 1237.5,670.0 C1251.7,674.2 1266.7,683.5 1272.5,686.2" stroke="#1a1a1a" stroke-width="1.5" fill="none" stroke-linejoin="round" stroke-linecap="round"/>
<path d="M982.5,696 L996.2,696 L1008.7,701 C1013,695 1018,688 1024.7,684.5 C1030,681 1035,680.5 1040.7,680.5 L1116,682.5 L1231.3,681.3 C1238,684 1245,689 1250,690 C1254,692 1257,693 1260,693 C1265,692 1268,688 1272.5,687.5 C1280,689 1287,692 1292.5,694.4" stroke="#1a1a1a" stroke-width="1.5" fill="none" stroke-linejoin="round" stroke-linecap="round"/>
<path d="M1059.6,551 C1075,548 1095,545.5 1109.8,544.4 C1130,543 1150,542 1169.7,542 C1185,542 1195,543 1205.6,544.4 C1218,546 1228,550 1235.5,554 C1241,558 1245,562 1246.2,565.9 C1247.5,570 1248,574 1247.4,576.7 C1247,578 1246,579 1243.9,579 C1230,576 1218,573 1205.6,570.7 C1197,569.5 1190,568.8 1181.6,568.3 L1063.2,568.3 Z" stroke="#1a1a1a" stroke-width="1.5" fill="#fff" stroke-linejoin="round" stroke-linecap="round"/>
<path d="M1066.8,549.7 C1100,547 1140,546 1169.7,546 L1185,546 C1200,547 1215,550 1227,555 C1235,558 1240,561 1242,563" stroke="#1a1a1a" stroke-width="1.5" fill="none" stroke-linejoin="round" stroke-linecap="round"/>
<path d="M1066.8,552 C1080,553.5 1090,554.5 1097.9,554.5 C1120,553.5 1150,552.7 1169.7,552.7 C1180,553 1185,554 1188,555 C1200,559 1210,563 1217.5,565.9 C1228,571 1237,575 1241.5,578" stroke="#1a1a1a" stroke-width="1.5" fill="none" stroke-linejoin="round" stroke-linecap="round"/>
<path d="M1169.7,543 L1185.8,543.5 L1185.8,554.5 L1169.7,553 Z M1173,543 L1173,553 M1176.5,543 L1176.5,553.5 M1180,543.2 L1180,554 M1183,543.3 L1183,554" stroke="#1a1a1a" stroke-width="1.5" fill="none" stroke-linejoin="round" stroke-linecap="round"/>
<path d="M1086,570 L1151.7,570 L1147,576 C1145,580 1143,582 1142.5,582.5 L1113.6,690.8 L1072.6,688 L1093.8,583.8 C1092,578 1089,573 1086,570 Z" stroke="#1a1a1a" stroke-width="1.5" fill="#fff" stroke-linejoin="round" stroke-linecap="round"/>
<path d="M984,724 L1054,724 M982,720 C995,727 1010,731 1040,735 C1060,736 1075,735 1090,733.5" stroke="#1a1a1a" stroke-width="1.5" fill="none" stroke-linejoin="round" stroke-linecap="round"/>
<path d="M989,730 C986,740 982,750 977,756" stroke="#1a1a1a" stroke-width="1.5" fill="none" stroke-linejoin="round" stroke-linecap="round"/>
<path d="M1071,687.4 L1038.6,755.7 L1074.5,758.3 L1091.6,724.1 L1062.6,716.4 C1065,705 1070,695 1072.8,688.2 L1113.8,691.6 C1110,705 1103,718 1091.6,724.1" stroke="#1a1a1a" stroke-width="1.5" fill="none" stroke-linejoin="round" stroke-linecap="round"/>
<path d="M1081,717.3 C1081,715 1089,715 1089,717.3 C1089,719.5 1081,719.5 1081,717.3" stroke="#1a1a1a" stroke-width="1.5" fill="none" stroke-linejoin="round" stroke-linecap="round"/>
<path d="M1090,735.2 L1105.3,735.2 C1113,738 1118,745 1117.3,752.3 C1117,760 1113,766 1108.7,769.4" stroke="#1a1a1a" stroke-width="1.5" fill="none" stroke-linejoin="round" stroke-linecap="round"/>
<path d="M1110.4,723.2 C1140,725 1165,728 1182.2,733.5 M1108,733 C1140,734 1165,736 1182,740 M1110.4,723.2 L1108,733 M1148,728 L1148,735 L1152,735 L1152,728 Z" stroke="#1a1a1a" stroke-width="1.5" fill="none" stroke-linejoin="round" stroke-linecap="round"/>
<path d="M1117.3,721.5 L1124,703 L1134.4,699.3 L1141.2,689 L1155,688.2 M1155,697 L1155,684 L1160,684 L1160,689 L1166.8,693 L1173,689 L1173,684 L1178,684 L1178,697 Z M1178,688.2 L1187.4,688.2" stroke="#1a1a1a" stroke-width="1.5" fill="none" stroke-linejoin="round" stroke-linecap="round"/>
<path d="M1187.4,687.4 L1185.6,733.5 C1178,742 1172,748 1172,756 C1172,766 1175,774 1178.8,778 C1182,782 1188,783 1195,782" stroke="#1a1a1a" stroke-width="1.5" fill="none" stroke-linejoin="round" stroke-linecap="round"/>
<path d="M1214.7,682.2 L1216.4,742 C1216,752 1211,760 1204.4,766 M1188,705 C1195,713 1207,713 1214,704" stroke="#1a1a1a" stroke-width="1.5" fill="none" stroke-linejoin="round" stroke-linecap="round"/>
<circle cx="1098.5" cy="753.2" r="7.7" stroke="#1a1a1a" stroke-width="1.5" fill="none" stroke-linejoin="round" stroke-linecap="round"/>
<circle cx="1098.5" cy="753.2" r="2" stroke="#1a1a1a" stroke-width="1.5" fill="none" stroke-linejoin="round" stroke-linecap="round"/>
<circle cx="1190" cy="764.3" r="12.8" stroke="#1a1a1a" stroke-width="1.5" fill="none" stroke-linejoin="round" stroke-linecap="round"/>
<circle cx="1190" cy="764.3" r="7.7" stroke="#1a1a1a" stroke-width="1.5" fill="none" stroke-linejoin="round" stroke-linecap="round"/>
<path d="M1117.5,772 L1117.5,803 M1133.8,772 L1133.8,803" stroke="#1a1a1a" stroke-width="1.5" fill="none" stroke-linejoin="round" stroke-linecap="round"/>
<path d="M 999.5 866.0 C 1000.0 856.0 1005.0 849.0 1010.5 849.0 C 1015.0 849.0 1018.0 852.0 1019.5 856.6 M 1009.0 849.5 C 1013.0 851.0 1016.0 854.0 1017.5 858.5" stroke="#1a1a1a" stroke-width="1.5" fill="none" stroke-linejoin="round" stroke-linecap="round"/>
<path d="M 1259.5 866.0 C 1259.0 856.0 1254.0 849.7 1247.3 849.7 C 1243.0 850.0 1240.0 853.0 1239.0 856.6 M 1249.0 850.0 C 1245.0 852.0 1242.5 855.0 1241.5 858.5" stroke="#1a1a1a" stroke-width="1.5" fill="none" stroke-linejoin="round" stroke-linecap="round"/>
<path d="M 1107.0 823.5 C 1091.0 826.0 1076.0 829.0 1066.0 829.0 C 1051.0 828.0 1041.0 827.0 1035.0 827.4 C 1026.0 829.0 1020.0 833.0 1015.0 835.8 L 1016.5 847.4 C 1026.0 849.0 1036.0 851.0 1046.0 852.0 L 1086.0 846.0 Z" stroke="#1a1a1a" stroke-width="1.5" fill="#fff" stroke-linejoin="round" stroke-linecap="round"/>
<path d="M 1015.0 837.0 C 1031.0 839.0 1056.0 841.0 1073.5 840.5 C 1081.0 839.0 1088.0 837.0 1096.0 835.0 M 1034.3 848.0 L 1034.3 852.0" stroke="#1a1a1a" stroke-width="1.5" fill="none" stroke-linejoin="round" stroke-linecap="round"/>
<path d="M 1146.5 823.5 C 1161.0 826.0 1176.0 828.0 1185.8 828.0 C 1201.0 828.5 1214.0 829.0 1221.2 829.0 C 1231.0 831.0 1237.0 833.0 1241.2 835.0 L 1239.5 847.4 C 1229.0 849.0 1219.0 851.0 1209.0 852.0 L 1166.0 846.0 Z" stroke="#1a1a1a" stroke-width="1.5" fill="#fff" stroke-linejoin="round" stroke-linecap="round"/>
<path d="M 1241.2 837.0 C 1226.0 839.0 1201.0 841.0 1182.5 840.5 C 1174.0 839.0 1166.0 837.0 1158.0 835.0 M 1220.0 848.0 L 1220.0 852.0" stroke="#1a1a1a" stroke-width="1.5" fill="none" stroke-linejoin="round" stroke-linecap="round"/>
<path d="M 1107.0 825.0 C 1056.0 845.0 986.0 866.0 940.0 881.0 C 931.0 884.0 925.0 886.0 920.2 888.9 L 919.9 895.4 C 921.0 900.0 923.0 905.0 925.3 907.7 C 930.0 908.5 936.0 908.4 942.0 907.0 C 996.0 896.0 1066.0 880.0 1108.5 871.0 Z" stroke="#1a1a1a" stroke-width="1.5" fill="#fff" stroke-linejoin="round" stroke-linecap="round"/>
<path d="M 919.9 895.4 C 926.0 895.8 934.0 896.5 939.1 896.1 C 996.0 880.0 1066.0 856.0 1111.0 840.0" stroke="#1a1a1a" stroke-width="1.5" fill="none" stroke-linejoin="round" stroke-linecap="round"/>
<path d="M 1147.0 825.0 C 1198.0 845.0 1268.0 868.0 1314.0 884.0 C 1324.0 888.0 1331.0 891.0 1332.5 894.0 C 1333.0 899.0 1331.0 905.0 1327.0 907.5 C 1321.0 909.0 1314.0 909.0 1310.0 908.8 C 1267.0 897.0 1187.0 880.0 1144.5 871.0 Z" stroke="#1a1a1a" stroke-width="1.5" fill="#fff" stroke-linejoin="round" stroke-linecap="round"/>
<path d="M 1143.0 840.0 C 1188.0 857.0 1258.0 882.0 1306.0 896.0 C 1316.0 898.0 1326.0 898.0 1332.0 894.5" stroke="#1a1a1a" stroke-width="1.5" fill="none" stroke-linejoin="round" stroke-linecap="round"/>
<path d="M 1108.3 811.3 C 1107.0 815.0 1107.0 819.0 1107.4 821.9 C 1108.0 828.0 1110.0 833.0 1111.9 837.9 C 1116.0 850.0 1118.0 856.0 1119.0 864.5 C 1121.0 875.0 1121.5 885.0 1121.6 896.4 L 1120.7 912.3 C 1117.0 920.0 1110.0 930.0 1109.2 938.9 C 1110.0 946.0 1113.0 951.0 1115.4 956.7 L 1116.3 964.6 L 1134.0 964.6 L 1133.5 956.7 C 1136.0 951.0 1139.0 946.0 1139.4 938.9 C 1139.0 930.0 1134.0 922.0 1132.3 914.1 L 1132.3 896.4 C 1132.4 885.0 1133.5 875.0 1135.8 864.5 C 1137.0 856.0 1139.0 848.0 1142.0 836.1 C 1144.5 830.0 1146.0 826.0 1146.5 824.6 C 1146.5 818.0 1146.0 814.0 1144.7 810.4 C 1138.0 807.0 1116.0 807.0 1108.3 811.3 Z" stroke="#1a1a1a" stroke-width="1.5" fill="#fff" stroke-linejoin="round" stroke-linecap="round"/>
<path d="M 1111.9 837.9 C 1117.0 834.0 1122.0 830.0 1126.1 828.1 C 1131.0 830.0 1137.0 833.0 1142.0 836.1" stroke="#1a1a1a" stroke-width="1.5" fill="none" stroke-linejoin="round" stroke-linecap="round"/>
<path d="M 1108.3 870.7 L 1111.9 896.4 L 1119.8 897.3 M 1145.5 870.7 L 1142.0 896.4 L 1133.1 898.2 M 1117.2 897.0 L 1118.1 914.0 M 1134.9 898.0 L 1134.2 914.0" stroke="#1a1a1a" stroke-width="1.5" fill="none" stroke-linejoin="round" stroke-linecap="round"/>
<path d="M 1118.1 774.0 L 1118.1 806.0 M 1135.8 774.0 L 1135.8 806.0" stroke="#1a1a1a" stroke-width="1.5" fill="none" stroke-linejoin="round" stroke-linecap="round"/>
<path d="M 1112.8 811.3 C 1113.0 806.0 1121.0 804.2 1127.0 804.2 C 1134.0 804.2 1141.0 806.0 1144.7 810.4 M 1117.0 809.0 C 1121.0 811.5 1131.0 812.0 1137.0 809.5" stroke="#1a1a1a" stroke-width="1.5" fill="none" stroke-linejoin="round" stroke-linecap="round"/>
<path d="M 1111.4 964.6 L 1118.1 964.6 L 1118.1 1008.0 L 1111.4 1008.0 C 1107.0 1003.0 1106.5 970.0 1111.4 964.6 Z" stroke="#1a1a1a" stroke-width="1.5" fill="#fff" stroke-linejoin="round" stroke-linecap="round"/>
<path d="M 1131.4 964.6 L 1137.1 964.6 C 1142.0 970.0 1142.5 1003.0 1137.1 1008.0 L 1131.4 1008.0 Z" stroke="#1a1a1a" stroke-width="1.5" fill="#fff" stroke-linejoin="round" stroke-linecap="round"/>
<path d="M 1118.1 966.0 L 1131.4 966.0 M 1118.1 1000.0 L 1131.4 1000.0 M 1118.1 1008.0 L 1131.4 1008.0" stroke="#1a1a1a" stroke-width="1.5" fill="none" stroke-linejoin="round" stroke-linecap="round"/>
<ellipse cx="946.3" cy="933.1" rx="19.2" ry="17.4" stroke="#1a1a1a" stroke-width="1.5" fill="#fff" stroke-linejoin="round" stroke-linecap="round"/>
<path d="M926.8,926.6 C931,917 938,912.1 945.6,912.1 C954,912.1 961,917 964.5,925.1" stroke="#1a1a1a" stroke-width="1.5" fill="none" stroke-linejoin="round" stroke-linecap="round"/>
<path d="M936.2,906.3 C941,906.5 946,906.8 951.4,907 C956,909 959,912 961.6,916.4 C963.5,919 964.5,922 965.2,925.1" stroke="#1a1a1a" stroke-width="1.5" fill="none" stroke-linejoin="round" stroke-linecap="round"/>
<path d="M923.1,906.3 C923.5,911 924,916 924.6,920.8 C925,925 926,930 926.8,933.8" stroke="#1a1a1a" stroke-width="1.5" fill="none" stroke-linejoin="round" stroke-linecap="round"/>
<ellipse cx="1330.4" cy="935.6" rx="19.2" ry="17" stroke="#1a1a1a" stroke-width="1.5" fill="#fff" stroke-linejoin="round" stroke-linecap="round"/>
<path d="M1311.9,928 C1316,919 1323,913.5 1330.8,913.5 C1339,913.5 1346,918 1348.9,925.1" stroke="#1a1a1a" stroke-width="1.5" fill="none" stroke-linejoin="round" stroke-linecap="round"/>
<path d="M1325,907.7 L1335.1,908 C1340,909 1343,911 1345.3,913.5 C1348,917 1349.5,922 1350,928" stroke="#1a1a1a" stroke-width="1.5" fill="none" stroke-linejoin="round" stroke-linecap="round"/>
<path d="M1309,907 C1309.8,915 1310.5,922 1311.2,928" stroke="#1a1a1a" stroke-width="1.5" fill="none" stroke-linejoin="round" stroke-linecap="round"/>
<line x1="253.8" y1="71.0" x2="253.8" y2="582.7" stroke="#cc5468" stroke-width="1.2"/>
<line x1="689.5" y1="71.0" x2="689.5" y2="577.0" stroke="#cc5468" stroke-width="1.2"/>
<line x1="304.5" y1="100.0" x2="304.5" y2="462.0" stroke="#cc5468" stroke-width="1.2"/>
<line x1="647.3" y1="100.0" x2="647.3" y2="476.0" stroke="#cc5468" stroke-width="1.2"/>
<line x1="310.0" y1="140.0" x2="310.0" y2="687.0" stroke="#cc5468" stroke-width="1.2"/>
<line x1="640.0" y1="140.0" x2="640.0" y2="674.0" stroke="#cc5468" stroke-width="1.2"/>
<line x1="368.5" y1="180.0" x2="368.5" y2="283.0" stroke="#cc5468" stroke-width="1.2"/>
<line x1="578.3" y1="180.0" x2="578.3" y2="283.0" stroke="#cc5468" stroke-width="1.2"/>
<line x1="264.5" y1="83.3" x2="684.7" y2="83.3" stroke="#cc5468" stroke-width="1.2"/>
<polygon points="260.5,83.3 272.5,77.8 272.5,88.8" fill="#d61a30"/>
<polygon points="688.7,83.3 676.7,77.8 676.7,88.8" fill="#d61a30"/>
<line x1="308.7" y1="115.6" x2="643.3" y2="115.6" stroke="#cc5468" stroke-width="1.2"/>
<polygon points="304.7,115.6 316.7,110.1 316.7,121.1" fill="#d61a30"/>
<polygon points="647.3,115.6 635.3,110.1 635.3,121.1" fill="#d61a30"/>
<line x1="314.3" y1="155.7" x2="636.0" y2="155.7" stroke="#cc5468" stroke-width="1.2"/>
<polygon points="310.3,155.7 322.3,150.2 322.3,161.2" fill="#d61a30"/>
<polygon points="640.0,155.7 628.0,150.2 628.0,161.2" fill="#d61a30"/>
<line x1="372.5" y1="194.0" x2="574.3" y2="194.0" stroke="#cc5468" stroke-width="1.2"/>
<polygon points="368.5,194.0 380.5,188.5 380.5,199.5" fill="#d61a30"/>
<polygon points="578.3,194.0 566.3,188.5 566.3,199.5" fill="#d61a30"/>
<line x1="144.2" y1="542.3" x2="320.0" y2="542.3" stroke="#cc5468" stroke-width="1.2"/>
<line x1="221.7" y1="628.4" x2="558.0" y2="628.4" stroke="#cc5468" stroke-width="1.2"/>
<line x1="142.7" y1="1008.7" x2="520.0" y2="1008.7" stroke="#cc5468" stroke-width="1.2"/>
<line x1="164.6" y1="547.7" x2="164.6" y2="1004.0" stroke="#cc5468" stroke-width="1.2"/>
<polygon points="164.6,543.7 159.1,555.7 170.1,555.7" fill="#d61a30"/>
<polygon points="164.6,1008.0 159.1,996.0 170.1,996.0" fill="#d61a30"/>
<line x1="222.3" y1="633.7" x2="222.3" y2="1004.0" stroke="#cc5468" stroke-width="1.2"/>
<polygon points="222.3,629.7 216.8,641.7 227.8,641.7" fill="#d61a30"/>
<polygon points="222.3,1008.0 216.8,996.0 227.8,996.0" fill="#d61a30"/>
<line x1="266.7" y1="866.0" x2="266.7" y2="1066.0" stroke="#cc5468" stroke-width="1.2"/>
<line x1="679.3" y1="874.0" x2="679.3" y2="1064.0" stroke="#cc5468" stroke-width="1.2"/>
<line x1="271.0" y1="1047.7" x2="675.3" y2="1047.7" stroke="#cc5468" stroke-width="1.2"/>
<polygon points="267.0,1047.7 279.0,1042.2 279.0,1053.2" fill="#d61a30"/>
<polygon points="679.3,1047.7 667.3,1042.2 667.3,1053.2" fill="#d61a30"/>
<text x="257.0" y="72.7" font-size="24.5" font-family="Liberation Sans" font-weight="normal" fill="#151515" textLength="75.5" lengthAdjust="spacingAndGlyphs">45. 00</text>
<text x="337.0" y="72.7" font-size="24.5" font-family="Liberation Sans" font-weight="normal" fill="#b0b0b0" textLength="8.0" lengthAdjust="spacingAndGlyphs">(</text>
<text x="351.5" y="72.7" font-size="24.5" font-family="Liberation Sans" font-weight="normal" fill="#3a9acb" textLength="65.5" lengthAdjust="spacingAndGlyphs">17.72</text>
<text x="418.0" y="72.7" font-size="24.5" font-family="Liberation Sans" font-weight="normal" fill="#b0b0b0" textLength="12.0" lengthAdjust="spacingAndGlyphs">″</text>
<text x="434.0" y="72.7" font-size="24.5" font-family="Liberation Sans" font-weight="normal" fill="#b0b0b0" textLength="8.0" lengthAdjust="spacingAndGlyphs">)</text>
<text x="447.0" y="72.7" font-size="24.5" font-family="Liberation Sans" font-weight="normal" fill="#151515" textLength="15.0" lengthAdjust="spacingAndGlyphs">˜</text>
<text x="462.5" y="72.7" font-size="24.5" font-family="Liberation Sans" font-weight="normal" fill="#151515" textLength="64.5" lengthAdjust="spacingAndGlyphs">70.00</text>
<text x="527.5" y="72.7" font-size="24.5" font-family="Liberation Sans" font-weight="normal" fill="#3a9acb" textLength="92.0" lengthAdjust="spacingAndGlyphs">(27.56")</text>
<text x="619.5" y="72.7" font-size="24.5" font-family="Liberation Sans" font-weight="normal" fill="#151515" textLength="76.5" lengthAdjust="spacing">扶手宽</text>
<text x="373.0" y="107.8" font-size="24" font-family="Liberation Sans" font-weight="normal" fill="#151515" textLength="62.6" lengthAdjust="spacingAndGlyphs">52.50</text>
<text x="435.6" y="107.8" font-size="24" font-family="Liberation Sans" font-weight="normal" fill="#3a9acb" textLength="93.0" lengthAdjust="spacingAndGlyphs">(20.67")</text>
<text x="529.0" y="107.8" font-size="24" font-family="Liberation Sans" font-weight="normal" fill="#151515" textLength="49.0" lengthAdjust="spacing">背宽</text>
<text x="368.0" y="148.0" font-size="24" font-family="Liberation Sans" font-weight="normal" fill="#151515" textLength="66.2" lengthAdjust="spacingAndGlyphs">51.50</text>
<text x="434.2" y="148.0" font-size="24" font-family="Liberation Sans" font-weight="normal" fill="#3a9acb" textLength="97.9" lengthAdjust="spacingAndGlyphs">(20.28")</text>
<text x="532.5" y="148.0" font-size="24" font-family="Liberation Sans" font-weight="normal" fill="#151515" textLength="50.0" lengthAdjust="spacing">座宽</text>
<text x="367.0" y="186.3" font-size="24" font-family="Liberation Sans" font-weight="normal" fill="#151515" textLength="67.7" lengthAdjust="spacingAndGlyphs">32.50</text>
<text x="434.7" y="186.3" font-size="24" font-family="Liberation Sans" font-weight="normal" fill="#3a9acb" textLength="93.9" lengthAdjust="spacingAndGlyphs">(12.80")</text>
<text x="529.0" y="186.3" font-size="24" font-family="Liberation Sans" font-weight="normal" fill="#151515" textLength="75.0" lengthAdjust="spacing">头枕宽</text>
<text x="368.5" y="1042.0" font-size="24" font-family="Liberation Sans" font-weight="normal" fill="#151515" textLength="66.5" lengthAdjust="spacingAndGlyphs">67.50</text>
<text x="439.0" y="1042.0" font-size="24" font-family="Liberation Sans" font-weight="normal" fill="#b0b0b0" textLength="9.0" lengthAdjust="spacingAndGlyphs">(</text>
<text x="450.5" y="1042.0" font-size="24" font-family="Liberation Sans" font-weight="normal" fill="#3a9acb" textLength="82.5" lengthAdjust="spacingAndGlyphs">26.57″</text>
<text x="533.0" y="1042.0" font-size="24" font-family="Liberation Sans" font-weight="normal" fill="#b0b0b0" textLength="8.0" lengthAdjust="spacingAndGlyphs">)</text>
<text x="545.0" y="1042.0" font-size="24" font-family="Liberation Sans" font-weight="normal" fill="#151515" textLength="75.5" lengthAdjust="spacing">椅脚宽</text>
<text x="0" y="0" transform="translate(144.5 983.0) rotate(-90)" font-size="24" font-family="Liberation Sans" font-weight="normal" fill="#151515" textLength="71.0" lengthAdjust="spacingAndGlyphs">60.00</text>
<text x="0" y="0" transform="translate(144.5 912.0) rotate(-90)" font-size="24" font-family="Liberation Sans" font-weight="normal" fill="#3a9acb" textLength="98.3" lengthAdjust="spacingAndGlyphs">(23.62")</text>
<text x="0" y="0" transform="translate(144.5 813.0) rotate(-90)" font-size="24" font-family="Liberation Sans" font-weight="normal" fill="#151515" textLength="14.3" lengthAdjust="spacingAndGlyphs">~</text>
<text x="0" y="0" transform="translate(144.5 798.7) rotate(-90)" font-size="24" font-family="Liberation Sans" font-weight="normal" fill="#151515" textLength="69.7" lengthAdjust="spacingAndGlyphs">80.00</text>
<text x="0" y="0" transform="translate(144.5 729.0) rotate(-90)" font-size="24" font-family="Liberation Sans" font-weight="normal" fill="#3a9acb" textLength="103.0" lengthAdjust="spacingAndGlyphs">(31.50")</text>
<text x="0" y="0" transform="translate(144.5 626.0) rotate(-90)" font-size="24" font-family="Liberation Sans" font-weight="normal" fill="#151515" textLength="73.5" lengthAdjust="spacing">扶手高</text>
<text x="0" y="0" transform="translate(207.3 978.0) rotate(-90)" font-size="24" font-family="Liberation Sans" font-weight="normal" fill="#151515" textLength="67.6" lengthAdjust="spacingAndGlyphs">45.00</text>
<text x="0" y="0" transform="translate(207.3 906.0) rotate(-90)" font-size="24" font-family="Liberation Sans" font-weight="normal" fill="#b0b0b0" textLength="9.0" lengthAdjust="spacingAndGlyphs">(</text>
<text x="0" y="0" transform="translate(207.3 890.0) rotate(-90)" font-size="24" font-family="Liberation Sans" font-weight="normal" fill="#3a9acb" textLength="73.6" lengthAdjust="spacingAndGlyphs">17.72″</text>
<text x="0" y="0" transform="translate(207.3 812.0) rotate(-90)" font-size="24" font-family="Liberation Sans" font-weight="normal" fill="#b0b0b0" textLength="13.3" lengthAdjust="spacingAndGlyphs">)</text>
<text x="0" y="0" transform="translate(207.3 795.0) rotate(-90)" font-size="24" font-family="Liberation Sans" font-weight="normal" fill="#151515" textLength="12.3" lengthAdjust="spacingAndGlyphs">˜</text>
<text x="0" y="0" transform="translate(207.3 778.0) rotate(-90)" font-size="24" font-family="Liberation Sans" font-weight="normal" fill="#151515" textLength="72.0" lengthAdjust="spacingAndGlyphs">56.00</text>
<text x="0" y="0" transform="translate(207.3 706.0) rotate(-90)" font-size="24" font-family="Liberation Sans" font-weight="normal" fill="#3a9acb" textLength="81.5" lengthAdjust="spacingAndGlyphs">(22.05")</text>
<text x="0" y="0" transform="translate(207.3 624.5) rotate(-90)" font-size="24" font-family="Liberation Sans" font-weight="normal" fill="#151515" textLength="57.0" lengthAdjust="spacing">座高</text>
<line x1="913.5" y1="163.0" x2="913.5" y2="951.0" stroke="#cc5468" stroke-width="1.2"/>
<line x1="1352.0" y1="160.0" x2="1352.0" y2="951.0" stroke="#cc5468" stroke-width="1.2"/>
<line x1="918.3" y1="169.4" x2="1348.0" y2="169.4" stroke="#cc5468" stroke-width="1.2"/>
<polygon points="914.3,169.4 926.3,163.9 926.3,174.9" fill="#d61a30"/>
<polygon points="1352.0,169.4 1340.0,163.9 1340.0,174.9" fill="#d61a30"/>
<line x1="773.5" y1="198.8" x2="1066.0" y2="198.8" stroke="#cc5468" stroke-width="1.2"/>
<line x1="789.7" y1="203.4" x2="789.7" y2="1003.5" stroke="#cc5468" stroke-width="1.2"/>
<polygon points="789.7,199.4 784.2,211.4 795.2,211.4" fill="#d61a30"/>
<polygon points="789.7,1007.5 784.2,995.5 795.2,995.5" fill="#d61a30"/>
<line x1="838.5" y1="203.4" x2="838.5" y2="734.0" stroke="#cc5468" stroke-width="1.2"/>
<polygon points="838.5,199.4 833.0,211.4 844.0,211.4" fill="#d61a30"/>
<polygon points="838.5,738.0 833.0,726.0 844.0,726.0" fill="#d61a30"/>
<line x1="879.3" y1="203.4" x2="879.3" y2="625.6" stroke="#cc5468" stroke-width="1.2"/>
<polygon points="879.3,199.4 873.8,211.4 884.8,211.4" fill="#d61a30"/>
<polygon points="879.3,629.6 873.8,617.6 884.8,617.6" fill="#d61a30"/>
<line x1="781.7" y1="1007.5" x2="1115.0" y2="1007.5" stroke="#cc5468" stroke-width="1.2"/>
<line x1="831.7" y1="743.0" x2="1055.0" y2="743.0" stroke="#cc5468" stroke-width="1.2"/>
<line x1="868.8" y1="630.0" x2="1232.0" y2="630.0" stroke="#cc5468" stroke-width="1.2"/>
<line x1="982.3" y1="368.0" x2="982.3" y2="723.0" stroke="#cc5468" stroke-width="1.2"/>
<line x1="1295.0" y1="368.0" x2="1295.0" y2="1031.0" stroke="#cc5468" stroke-width="1.2"/>
<line x1="987.3" y1="378.0" x2="1291.0" y2="378.0" stroke="#cc5468" stroke-width="1.2"/>
<polygon points="983.3,378.0 995.3,372.5 995.3,383.5" fill="#d61a30"/>
<polygon points="1295.0,378.0 1283.0,372.5 1283.0,383.5" fill="#d61a30"/>
<line x1="1071.0" y1="433.0" x2="1071.0" y2="690.0" stroke="#cc5468" stroke-width="1.2"/>
<line x1="1075.0" y1="464.4" x2="1290.4" y2="464.4" stroke="#cc5468" stroke-width="1.2"/>
<polygon points="1071.0,464.4 1083.0,458.9 1083.0,469.9" fill="#d61a30"/>
<polygon points="1294.4,464.4 1282.4,458.9 1282.4,469.9" fill="#d61a30"/>
<line x1="1134.0" y1="757.0" x2="1134.0" y2="1030.7" stroke="#cc5468" stroke-width="1.2"/>
<line x1="1138.0" y1="1024.6" x2="1291.0" y2="1024.6" stroke="#cc5468" stroke-width="1.2"/>
<polygon points="1134.0,1024.6 1146.0,1019.1 1146.0,1030.1" fill="#d61a30"/>
<polygon points="1295.0,1024.6 1283.0,1019.1 1283.0,1030.1" fill="#d61a30"/>
<text x="1039.0" y="163.0" font-size="23" font-family="Liberation Sans" font-weight="normal" fill="#151515" textLength="66.0" lengthAdjust="spacingAndGlyphs">67.00</text>
<text x="1105.0" y="163.0" font-size="23" font-family="Liberation Sans" font-weight="normal" fill="#151515" textLength="9.0" lengthAdjust="spacingAndGlyphs">(</text>
<text x="1117.0" y="163.0" font-size="23" font-family="Liberation Sans" font-weight="normal" fill="#3a9acb" textLength="78.0" lengthAdjust="spacingAndGlyphs">26.38"</text>
<text x="1195.0" y="163.0" font-size="23" font-family="Liberation Sans" font-weight="normal" fill="#151515" textLength="8.0" lengthAdjust="spacingAndGlyphs">)</text>
<text x="1204.0" y="163.0" font-size="23" font-family="Liberation Sans" font-weight="normal" fill="#151515" textLength="47.0" lengthAdjust="spacing">椅深</text>
<text x="1000.0" y="355.4" font-size="23" font-family="Liberation Sans" font-weight="normal" fill="#151515" textLength="68.5" lengthAdjust="spacingAndGlyphs">49.00</text>
<text x="1072.0" y="355.4" font-size="23" font-family="Liberation Sans" font-weight="normal" fill="#b0b0b0" textLength="9.0" lengthAdjust="spacingAndGlyphs">(</text>
<text x="1087.0" y="355.4" font-size="23" font-family="Liberation Sans" font-weight="normal" fill="#3a9acb" textLength="65.5" lengthAdjust="spacingAndGlyphs">19.29</text>
<text x="1154.0" y="355.4" font-size="23" font-family="Liberation Sans" font-weight="normal" fill="#b0b0b0" textLength="15.0" lengthAdjust="spacingAndGlyphs">″</text>
<text x="1169.0" y="355.4" font-size="23" font-family="Liberation Sans" font-weight="normal" fill="#b0b0b0" textLength="10.0" lengthAdjust="spacingAndGlyphs">)</text>
<text x="1182.0" y="355.4" font-size="23" font-family="Liberation Sans" font-weight="normal" fill="#151515" textLength="52.0" lengthAdjust="spacing">座长</text>
<text x="0" y="0" transform="translate(771.6 677.5) rotate(-90)" font-size="24.5" font-family="Liberation Sans" font-weight="normal" fill="#151515" textLength="71.1" lengthAdjust="spacingAndGlyphs">114.00</text>
<text x="0" y="0" transform="translate(771.6 601.0) rotate(-90)" font-size="24.5" font-family="Liberation Sans" font-weight="normal" fill="#b0b0b0" textLength="11.3" lengthAdjust="spacingAndGlyphs">(</text>
<text x="0" y="0" transform="translate(771.6 583.0) rotate(-90)" font-size="24.5" font-family="Liberation Sans" font-weight="normal" fill="#3a9acb" textLength="73.0" lengthAdjust="spacingAndGlyphs">44.88″</text>
<text x="0" y="0" transform="translate(771.6 507.0) rotate(-90)" font-size="24.5" font-family="Liberation Sans" font-weight="normal" fill="#b0b0b0" textLength="11.0" lengthAdjust="spacingAndGlyphs">)</text>
<text x="0" y="0" transform="translate(771.6 491.0) rotate(-90)" font-size="24.5" font-family="Liberation Sans" font-weight="normal" fill="#151515" textLength="11.0" lengthAdjust="spacingAndGlyphs">˜</text>
<text x="0" y="0" transform="translate(771.6 477.0) rotate(-90)" font-size="24.5" font-family="Liberation Sans" font-weight="normal" fill="#151515" textLength="80.8" lengthAdjust="spacingAndGlyphs">129.00</text>
<text x="0" y="0" transform="translate(771.6 396.2) rotate(-90)" font-size="24.5" font-family="Liberation Sans" font-weight="normal" fill="#3a9acb" textLength="87.1" lengthAdjust="spacingAndGlyphs">(50.79")</text>
<text x="0" y="0" transform="translate(771.6 309.1) rotate(-90)" font-size="24.5" font-family="Liberation Sans" font-weight="normal" fill="#151515" textLength="56.1" lengthAdjust="spacing">椅高</text>
<text x="0" y="0" transform="translate(822.8 676.5) rotate(-90)" font-size="24.5" font-family="Liberation Sans" font-weight="normal" fill="#151515" textLength="68.2" lengthAdjust="spacingAndGlyphs">86.50</text>
<text x="0" y="0" transform="translate(822.8 608.3) rotate(-90)" font-size="24.5" font-family="Liberation Sans" font-weight="normal" fill="#3a9acb" textLength="84.3" lengthAdjust="spacingAndGlyphs">(34.06")</text>
<text x="0" y="0" transform="translate(822.8 518.0) rotate(-90)" font-size="24.5" font-family="Liberation Sans" font-weight="normal" fill="#151515" textLength="11.7" lengthAdjust="spacingAndGlyphs">˜</text>
<text x="0" y="0" transform="translate(822.8 504.0) rotate(-90)" font-size="24.5" font-family="Liberation Sans" font-weight="normal" fill="#151515" textLength="68.9" lengthAdjust="spacingAndGlyphs">90.50</text>
<text x="0" y="0" transform="translate(822.8 435.1) rotate(-90)" font-size="24.5" font-family="Liberation Sans" font-weight="normal" fill="#3a9acb" textLength="90.8" lengthAdjust="spacingAndGlyphs">(35.63")</text>
<text x="0" y="0" transform="translate(822.8 344.3) rotate(-90)" font-size="24.5" font-family="Liberation Sans" font-weight="normal" fill="#151515" textLength="54.0" lengthAdjust="spacing">背长</text>
<text x="0" y="0" transform="translate(867.0 620.0) rotate(-90)" font-size="24.5" font-family="Liberation Sans" font-weight="normal" fill="#151515" textLength="60.0" lengthAdjust="spacingAndGlyphs">68.00</text>
<text x="0" y="0" transform="translate(867.0 560.0) rotate(-90)" font-size="24.5" font-family="Liberation Sans" font-weight="normal" fill="#3a9acb" textLength="100.0" lengthAdjust="spacingAndGlyphs">(26.77″)</text>
<text x="0" y="0" transform="translate(867.0 460.2) rotate(-90)" font-size="24.5" font-family="Liberation Sans" font-weight="normal" fill="#151515" textLength="8.4" lengthAdjust="spacingAndGlyphs">˜</text>
<text x="0" y="0" transform="translate(867.0 448.5) rotate(-90)" font-size="24.5" font-family="Liberation Sans" font-weight="normal" fill="#151515" textLength="65.2" lengthAdjust="spacingAndGlyphs">76.00</text>
<text x="0" y="0" transform="translate(867.0 383.3) rotate(-90)" font-size="24.5" font-family="Liberation Sans" font-weight="normal" fill="#3a9acb" textLength="87.1" lengthAdjust="spacingAndGlyphs">(29.92")</text>
<text x="0" y="0" transform="translate(867.0 296.2) rotate(-90)" font-size="24.5" font-family="Liberation Sans" font-weight="normal" fill="#151515" textLength="54.2" lengthAdjust="spacing">背高</text>
<text x="1076.0" y="435.6" font-size="29" font-family="Liberation Sans" font-weight="normal" fill="#151515" textLength="57.5" lengthAdjust="spacingAndGlyphs">38.50</text>
<text x="1138.0" y="435.6" font-size="29" font-family="Liberation Sans" font-weight="normal" fill="#b0b0b0" textLength="7.0" lengthAdjust="spacingAndGlyphs">(</text>
<text x="1148.0" y="435.6" font-size="29" font-family="Liberation Sans" font-weight="normal" fill="#3a9acb" textLength="77.0" lengthAdjust="spacingAndGlyphs">15. 16″</text>
<text x="1225.0" y="435.6" font-size="29" font-family="Liberation Sans" font-weight="normal" fill="#b0b0b0" textLength="8.0" lengthAdjust="spacingAndGlyphs">)</text>
<text x="1239.0" y="435.6" font-size="29" font-family="Liberation Sans" font-weight="normal" fill="#151515" textLength="10.0" lengthAdjust="spacingAndGlyphs">˜</text>
<text x="1250.5" y="435.6" font-size="29" font-family="Liberation Sans" font-weight="normal" fill="#151515" textLength="58.5" lengthAdjust="spacingAndGlyphs">43.50</text>
<text x="1310.0" y="435.6" font-size="29" font-family="Liberation Sans" font-weight="normal" fill="#3a9acb" textLength="79.5" lengthAdjust="spacingAndGlyphs">(17.13")</text>
<text x="1389.5" y="435.6" font-size="29" font-family="Liberation Sans" font-weight="normal" fill="#151515" textLength="42.0" lengthAdjust="spacingAndGlyphs">座深</text>
<text x="1031.5" y="1062.6" font-size="29" font-family="Liberation Sans" font-weight="normal" fill="#151515" textLength="58.5" lengthAdjust="spacingAndGlyphs">31.00</text>
<text x="1094.0" y="1062.6" font-size="29" font-family="Liberation Sans" font-weight="normal" fill="#b0b0b0" textLength="7.5" lengthAdjust="spacingAndGlyphs">(</text>
<text x="1103.5" y="1062.6" font-size="29" font-family="Liberation Sans" font-weight="normal" fill="#3a9acb" textLength="79.5" lengthAdjust="spacingAndGlyphs">12. 20″</text>
<text x="1183.0" y="1062.6" font-size="29" font-family="Liberation Sans" font-weight="normal" fill="#b0b0b0" textLength="7.0" lengthAdjust="spacingAndGlyphs">)</text>
<text x="1196.0" y="1062.6" font-size="29" font-family="Liberation Sans" font-weight="normal" fill="#151515" textLength="10.5" lengthAdjust="spacingAndGlyphs">˜</text>
<text x="1207.0" y="1062.6" font-size="29" font-family="Liberation Sans" font-weight="normal" fill="#151515" textLength="58.5" lengthAdjust="spacingAndGlyphs">36.00</text>
<text x="1265.5" y="1062.6" font-size="29" font-family="Liberation Sans" font-weight="normal" fill="#3a9acb" textLength="78.5" lengthAdjust="spacingAndGlyphs">(14.17")</text>
<text x="1344.0" y="1062.6" font-size="29" font-family="Liberation Sans" font-weight="normal" fill="#151515" textLength="90.5" lengthAdjust="spacingAndGlyphs">前倾长度</text>
</svg></body></html>
